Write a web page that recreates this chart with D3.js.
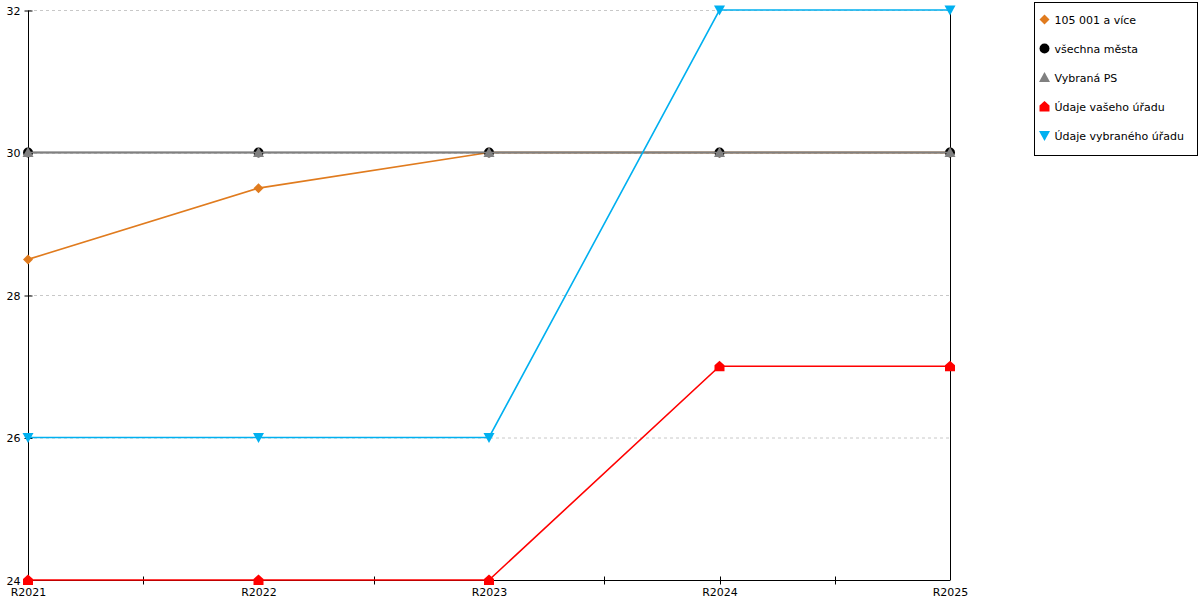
<!DOCTYPE html>
<html>
<head>
<meta charset="utf-8">
<script src="https://cdn.jsdelivr.net/npm/d3@7"></script>
<style>
  body { margin: 0; background: #fff; }
  text { font-family: "DejaVu Sans", sans-serif; font-size: 11px; fill: #000; }
</style>
</head>
<body>
<div id="chart"></div>
<script>
let categories = ['R2021', 'R2022', 'R2023', 'R2024', 'R2025'];
let seriesNames = ['105 001 a více', 'všechna města', 'Vybraná PS', 'Údaje vašeho úřadu', 'Údaje vybraného úřadu'];
let values105 = [28.5, 29.5, 30, 30, 30];
let valuesAll = [30, 30, 30, 30, 30];
let valuesPS = [30, 30, 30, 30, 30];
let valuesYour = [24, 24, 24, 27, 27];
let valuesSelected = [26, 26, 26, 32, 32];
let yTicks = [24, 26, 28, 30, 32];

let colors = ['#e07b1e', '#000000', '#808080', '#ff0000', '#00b0f0'];
let shapes = ['diamond', 'circle', 'triangle', 'house', 'down'];
let seriesData = [values105, valuesAll, valuesPS, valuesYour, valuesSelected];

let width = 1200, height = 600,
    margin = {left: 28, top: 10, right: 250, bottom: 20};

let svg = d3.select('#chart').append('svg')
    .attr('width', width)
    .attr('height', height);

let xScale = d3.scalePoint()
    .domain(categories)
    .range([margin.left, width - margin.right]);

let yScale = d3.scaleLinear()
    .domain([24, 32])
    .range([height - margin.bottom, margin.top]);

// grid
svg.append('g')
    .selectAll('line')
    .data(yTicks)
    .join('line')
    .attr('x1', margin.left)
    .attr('x2', width - margin.right)
    .attr('y1', d => yScale(d) + 0.5)
    .attr('y2', d => yScale(d) + 0.5)
    .attr('stroke', '#c8c8c8')
    .attr('stroke-dasharray', '3,3');

// right border line
svg.append('line')
    .attr('x1', width - margin.right + 0.5)
    .attr('x2', width - margin.right + 0.5)
    .attr('y1', margin.top)
    .attr('y2', height - margin.bottom)
    .attr('stroke', '#000');

// y axis
let yAxis = svg.append('g')
    .attr('transform', `translate(${margin.left + 0.5}, 0.5)`)
    .call(d3.axisLeft(yScale).tickValues(yTicks).tickSize(4).tickPadding(4));
yAxis.selectAll('.tick line').attr('x2', 4).attr('x1', -4);
yAxis.select('.domain').attr('d', `M0,${margin.top}V${height - margin.bottom}`);

// x axis
let step = xScale.step();
let minorTicks = categories.slice(0, -1).map(c => xScale(c) + step / 2);
let xAxisG = svg.append('g')
    .attr('transform', `translate(0.5, ${height - margin.bottom + 0.5})`);
xAxisG.append('line')
    .attr('x1', margin.left)
    .attr('x2', width - margin.right)
    .attr('stroke', '#000');
xAxisG.selectAll('.minor')
    .data(minorTicks.concat(categories.slice(1, -1).map(c => xScale(c))))
    .join('line')
    .attr('class', 'minor')
    .attr('x1', d => Math.round(d))
    .attr('x2', d => Math.round(d))
    .attr('y1', -4)
    .attr('y2', 4)
    .attr('stroke', '#000');
xAxisG.selectAll('text')
    .data(categories)
    .join('text')
    .attr('x', d => xScale(d))
    .attr('y', 15)
    .attr('text-anchor', 'middle')
    .text(d => d);

function markerPath(shape) {
    if (shape === 'diamond') return 'M0,-5L5,0L0,5L-5,0Z';
    if (shape === 'circle') return d3.symbol(d3.symbolCircle, 78)();
    if (shape === 'triangle') return 'M0,-5.5L5.5,4.5L-5.5,4.5Z';
    if (shape === 'house') return 'M0,-5.5L5,-1V5H-5V-1Z';
    return 'M-5.5,-4.5L5.5,-4.5L0,5.5Z';
}

let line = d3.line()
    .x((d, i) => xScale(categories[i]))
    .y(d => yScale(d));

seriesData.forEach((vals, k) => {
    let g = svg.append('g');
    g.append('path')
        .datum(vals)
        .attr('d', line)
        .attr('fill', 'none')
        .attr('stroke', colors[k])
        .attr('stroke-width', 1.6);
    g.selectAll('path.mark')
        .data(vals)
        .join('path')
        .attr('class', 'mark')
        .attr('d', markerPath(shapes[k]))
        .attr('transform', (d, i) => `translate(${xScale(categories[i])}, ${yScale(d)})`)
        .attr('fill', colors[k]);
});

// legend
let legend = svg.append('g')
    .attr('transform', 'translate(1034.5, 2.5)');
legend.append('rect')
    .attr('width', 163)
    .attr('height', 153)
    .attr('fill', '#fff')
    .attr('stroke', '#000');
let items = legend.selectAll('g.item')
    .data(seriesNames)
    .join('g')
    .attr('class', 'item')
    .attr('transform', (d, i) => `translate(10, ${17 + i * 29})`);
items.append('path')
    .attr('d', (d, i) => markerPath(shapes[i]))
    .attr('fill', (d, i) => colors[i]);
items.append('text')
    .attr('x', 10)
    .attr('y', 4)
    .text(d => d);
</script>
</body>
</html>
